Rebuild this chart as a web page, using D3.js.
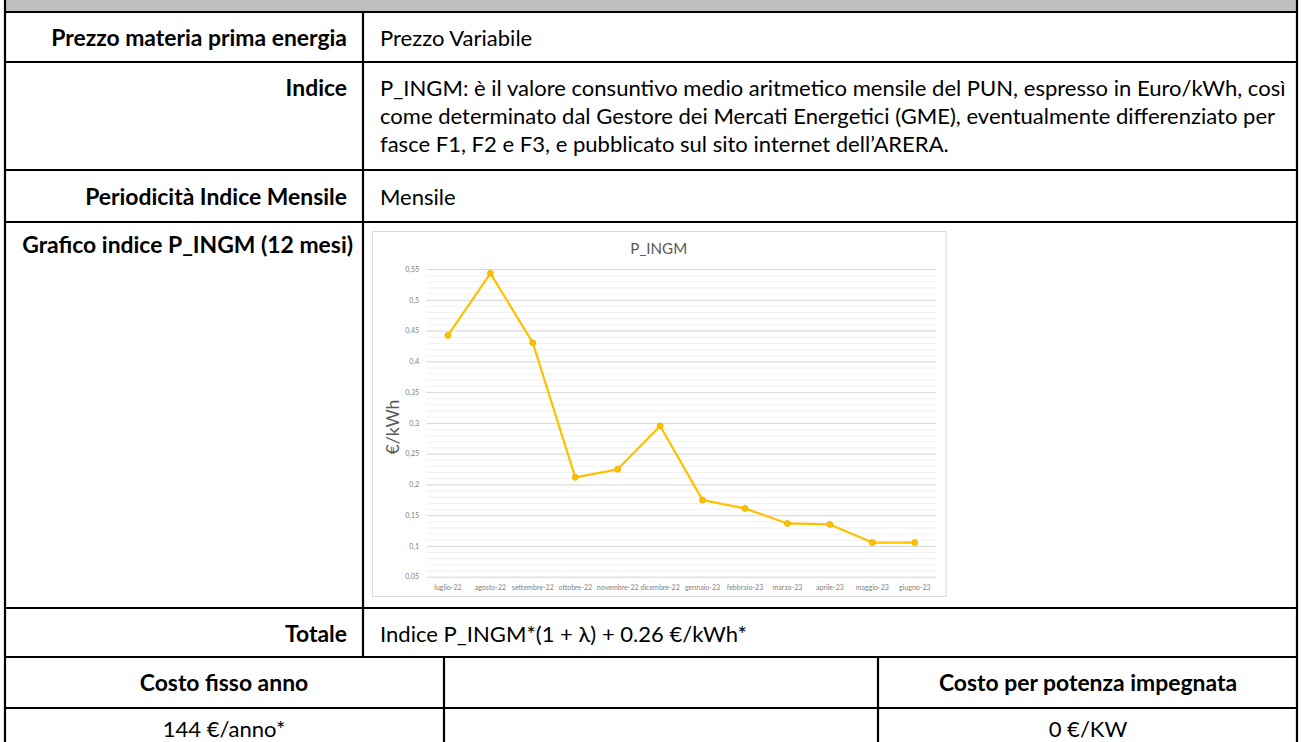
<!DOCTYPE html>
<html>
<head>
<meta charset="utf-8">
<script src="https://cdn.jsdelivr.net/npm/d3@7"></script>
<style>
  body { margin: 0; background: #fff; }
  svg { display: block; }
</style>
</head>
<body>
<svg id="sheet" width="1301" height="742"></svg>
<script>
// chart data
const months = ['luglio-22', 'agosto-22', 'settembre-22', 'ottobre-22', 'novembre-22', 'dicembre-22',
                'gennaio-23', 'febbraio-23', 'marzo-23', 'aprile-23', 'maggio-23', 'giugno-23'];
const pIngm = [0.442, 0.543, 0.430, 0.2115, 0.2245, 0.295, 0.1745, 0.161, 0.1365, 0.135, 0.1055, 0.1055];
const yTickValues = [0.05, 0.1, 0.15, 0.2, 0.25, 0.3, 0.35, 0.4, 0.45, 0.5, 0.55];

// table text
const rowLabels = ['Prezzo materia prima energia', 'Indice', 'Periodicità Indice Mensile',
                   'Grafico indice P_INGM (12 mesi)', 'Totale'];
const rowValues = [
    ['Prezzo Variabile'],
    ['P_INGM: è il valore consuntivo medio aritmetico mensile del PUN, espresso in Euro/kWh, così',
     'come determinato dal Gestore dei Mercati Energetici (GME), eventualmente differenziato per',
     'fasce F1, F2 e F3, e pubblicato sul sito internet dell’ARERA.'],
    ['Mensile'],
    [],
    ['Indice P_INGM*(1 + λ) + 0.26 €/kWh*']
];
const costHeaders = ['Costo fisso anno', '', 'Costo per potenza impegnata'];
const costValues = ['144 €/anno*', '', '0 €/KW'];

const FONT = 'Lato, Carlito, "Open Sans", sans-serif';
const svg = d3.select('#sheet');

// font size so that a string is a given width
function fitSize(str, weight, target) {
    let t = svg.append('text')
        .attr('x', -2000).attr('y', -2000)
        .style('font-family', FONT)
        .style('font-weight', weight)
        .style('font-size', '20px')
        .text(str);
    let w = t.node().getComputedTextLength();
    t.remove();
    return 20 * target / w;
}

const regSize = fitSize(rowValues[1][0], 400, 906);
const boldSize = fitSize(rowLabels[0], 700, 296);

// ---- table frame ----
const left = 5, right = 1297, colDiv = 363;
const hLines = [12, 62, 170, 222, 608, 657, 708];

svg.append('rect')
    .attr('x', left).attr('y', 0)
    .attr('width', right - left).attr('height', 12)
    .attr('fill', '#bfbfbf');

let frame = svg.append('g')
    .attr('stroke', '#000')
    .attr('stroke-width', 2.2);

frame.selectAll('.hline')
    .data(hLines)
    .enter()
    .append('line')
    .attr('class', 'hline')
    .attr('x1', left).attr('x2', right)
    .attr('y1', d => d).attr('y2', d => d);

frame.append('line').attr('x1', left).attr('x2', left).attr('y1', 0).attr('y2', 742);
frame.append('line').attr('x1', right).attr('x2', right).attr('y1', 0).attr('y2', 742);
frame.append('line').attr('x1', colDiv).attr('x2', colDiv).attr('y1', 12).attr('y2', 657);
frame.append('line').attr('x1', 444).attr('x2', 444).attr('y1', 657).attr('y2', 742);
frame.append('line').attr('x1', 878).attr('x2', 878).attr('y1', 657).attr('y2', 742);

// ---- labels and values ----
const labelBase = [46, 96, 205, 253, 641.5];
const labelRight = [347, 347, 347, 353, 347];

svg.selectAll('.rowLabel')
    .data(rowLabels)
    .enter()
    .append('text')
    .attr('class', 'rowLabel')
    .attr('x', (d, i) => labelRight[i])
    .attr('y', (d, i) => labelBase[i])
    .attr('text-anchor', 'end')
    .style('font-family', FONT)
    .style('font-weight', 700)
    .style('font-size', boldSize + 'px')
    .attr('fill', '#000')
    .text(d => d);

rowValues.forEach((lines, i) => {
    svg.selectAll('.val' + i)
        .data(lines)
        .enter()
        .append('text')
        .attr('class', 'val' + i)
        .attr('x', 380)
        .attr('y', (d, j) => labelBase[i] + j * 28)
        .style('font-family', FONT)
        .style('font-size', regSize + 'px')
        .attr('fill', '#000')
        .text(d => d);
});

const costCenters = [224, 661, 1088];
svg.selectAll('.costHead')
    .data(costHeaders)
    .enter()
    .append('text')
    .attr('class', 'costHead')
    .attr('x', (d, i) => costCenters[i])
    .attr('y', 691)
    .attr('text-anchor', 'middle')
    .style('font-family', FONT)
    .style('font-weight', 700)
    .style('font-size', boldSize + 'px')
    .text(d => d);

svg.selectAll('.costVal')
    .data(costValues)
    .enter()
    .append('text')
    .attr('class', 'costVal')
    .attr('x', (d, i) => costCenters[i])
    .attr('y', 737)
    .attr('text-anchor', 'middle')
    .style('font-family', FONT)
    .style('font-size', regSize + 'px')
    .text(d => d);

// ---- embedded chart ----
const box = {x: 372, y: 231, w: 573.5, h: 365};
const plot = {left: 426.7, right: 936, top: 269, bottom: 576.7};

let chart = svg.append('g');
chart.append('rect')
    .attr('x', box.x + 0.5).attr('y', box.y + 0.5)
    .attr('width', box.w).attr('height', box.h)
    .attr('fill', '#fff')
    .attr('stroke', '#d9d9d9');

let x = d3.scaleBand().domain(months).range([plot.left, plot.right]);
let y = d3.scaleLinear().domain([0.05, 0.55]).range([plot.bottom, plot.top]);

const itFormat = d3.formatLocale({decimal: ',', thousands: '.', grouping: [3], currency: ['', '€']}).format('~g');

// minor grid every 0.01
chart.append('g')
    .attr('transform', `translate(${plot.left},0)`)
    .call(d3.axisLeft(y).tickValues(y.ticks(50)).tickSize(-(plot.right - plot.left)).tickFormat(''))
    .call(g => g.select('.domain').remove())
    .call(g => g.selectAll('line').attr('stroke', '#f0f0f0').attr('stroke-width', 1));

let tickSize = fitSize('0,55', 400, 14);
chart.append('g')
    .attr('transform', `translate(${plot.left},0)`)
    .call(d3.axisLeft(y).tickValues(yTickValues).tickSize(-(plot.right - plot.left)).tickPadding(7.5).tickFormat(itFormat))
    .call(g => g.select('.domain').remove())
    .call(g => g.selectAll('line').attr('stroke', '#d9d9d9').attr('stroke-width', 1))
    .call(g => g.selectAll('text')
        .style('font-family', FONT)
        .style('font-size', tickSize + 'px')
        .attr('fill', '#7f7f7f'));

let xSize = fitSize('settembre-22', 400, 42);
chart.append('g')
    .attr('transform', `translate(0,${plot.bottom})`)
    .call(d3.axisBottom(x).tickSize(0).tickPadding(8.5))
    .call(g => g.select('.domain').remove())
    .call(g => g.selectAll('text')
        .style('font-family', FONT)
        .style('font-size', xSize + 'px')
        .attr('fill', '#7f7f7f'));

// title and axis label
chart.append('text')
    .attr('x', box.x + box.w / 2)
    .attr('y', 254)
    .attr('text-anchor', 'middle')
    .style('font-family', FONT)
    .style('font-size', fitSize('P_INGM', 400, 57) + 'px')
    .attr('fill', '#595959')
    .text('P_INGM');

chart.append('text')
    .attr('transform', 'translate(399,427) rotate(-90)')
    .attr('text-anchor', 'middle')
    .style('font-family', FONT)
    .style('font-size', fitSize('€/kWh', 400, 55) + 'px')
    .attr('fill', '#595959')
    .text('€/kWh');

// series
let line = d3.line()
    .x((d, i) => x(months[i]) + x.bandwidth() / 2)
    .y(d => y(d));

chart.append('path')
    .datum(pIngm)
    .attr('d', line)
    .attr('fill', 'none')
    .attr('stroke', '#ffc000')
    .attr('stroke-width', 2.2)
    .attr('stroke-linejoin', 'round');

chart.selectAll('.marker')
    .data(pIngm)
    .enter()
    .append('circle')
    .attr('class', 'marker')
    .attr('cx', (d, i) => x(months[i]) + x.bandwidth() / 2)
    .attr('cy', d => y(d))
    .attr('r', 3)
    .attr('fill', '#ffc000')
    .attr('stroke', '#e8b000')
    .attr('stroke-width', 0.8);
</script>
</body>
</html>
